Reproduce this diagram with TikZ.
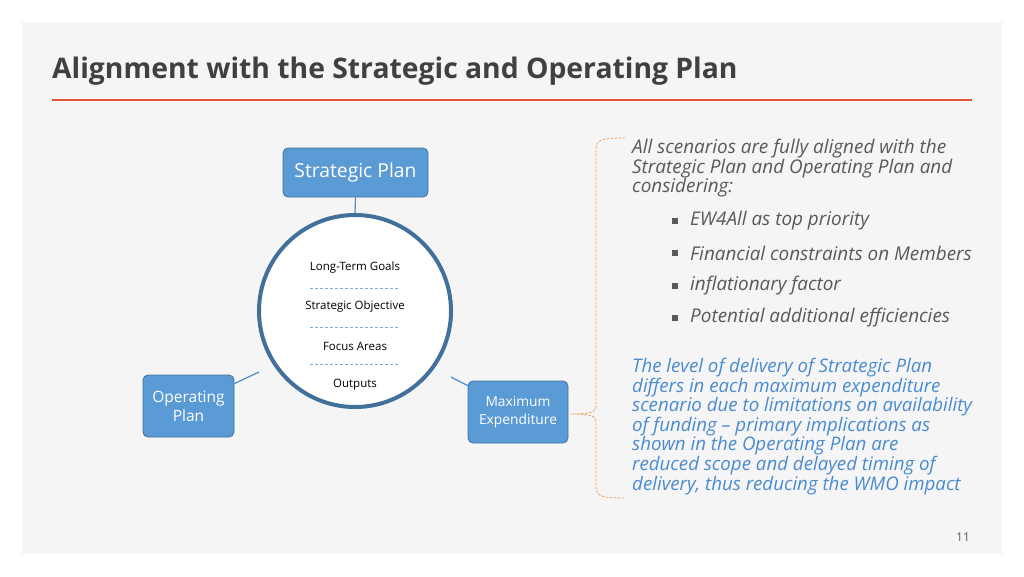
\documentclass[tikz,border=0pt]{standalone}
\usepackage{fontspec}
\setmainfont{Open Sans}
\begin{document}
\begin{tikzpicture}[x=1pt,y=-1pt,
  box/.style={draw=boxline,line width=0.8pt,fill=boxfill,rounded corners=5pt,text=white,align=center,inner sep=0pt},
  conn/.style={draw=linkblue,line width=1.2pt},
  sep/.style={draw=sepblue,dashed,line width=0.5pt,dash pattern=on 3pt off 2pt},
  grayt/.style={text=txtgray,font=\fontsize{18.9}{19.6}\selectfont\itshape,align=left,anchor=north west,inner sep=0pt},
  bluet/.style={text=txtblue,font=\fontsize{18.7}{19.6}\selectfont\itshape,align=left,anchor=north west,inner sep=0pt},
  circt/.style={font=\fontsize{11.5}{13}\selectfont,text=black}]
\definecolor{boxfill}{HTML}{5B9BD5}
\definecolor{boxline}{HTML}{41719C}
\definecolor{linkblue}{HTML}{4A8BC8}
\definecolor{sepblue}{HTML}{7FAEDD}
\definecolor{ringblue}{HTML}{41709A}
\definecolor{txtgray}{HTML}{595959}
\definecolor{txtblue}{HTML}{4A8BD0}
\definecolor{titlegray}{HTML}{404040}
\definecolor{redline}{HTML}{E0533A}
\definecolor{panel}{HTML}{F5F5F5}
\definecolor{brace}{HTML}{F0A060}
\useasboundingbox (0,0) rectangle (1024,576);
\fill[white] (0,0) rectangle (1024,576);
\fill[panel] (22,22) rectangle (1002,554);
\node[anchor=west,inner sep=0pt,text=titlegray,font=\fontsize{28.3}{32}\selectfont\bfseries] (title) at (52,71) {Alignment with the Strategic and Operating Plan};
\draw[redline,line width=1.5pt] (52,100) -- (972,100);
% circle
\node[circle,draw=ringblue,line width=4pt,fill=white,minimum size=192pt,inner sep=0pt] (ring) at (355,311) {};
\node[circt] (g1) at (355,268) {Long-Term Goals};
\node[circt] (g2) at (355,307) {Strategic Objective};
\node[circt] (g3) at (355,346) {Focus Areas};
\node[circt] (g4) at (355,385) {Outputs};
\draw[sep] (310,288) -- (398,288);
\draw[sep] (310,327) -- (398,327);
\draw[sep] (310,364) -- (398,364);
% boxes
\node[box,minimum width=145pt,minimum height=49pt,font=\fontsize{19.3}{22}\selectfont] (sp) at (355.5,172.5) {Strategic Plan};
\node[box,minimum width=91pt,minimum height=62pt,font=\fontsize{15.5}{19}\selectfont] (op) at (188.5,406) {Operating\\Plan};
\node[box,minimum width=100pt,minimum height=62pt,font=\fontsize{13.8}{18}\selectfont] (me) at (518,412) {Maximum\\Expenditure};
\draw[conn] (sp.south) -- (ring.north);
\coordinate (opa) at (259,372);
\coordinate (mea) at (451,377);
\draw[conn] (op.north east) ++(0,9) coordinate (opb) -- (opa);
\draw[conn] (me.north west) ++(0,5) coordinate (meb) -- (mea);
% brace
\coordinate (btop) at (625,138);
\coordinate (bbot) at (625,498);
\coordinate (btip) at (570,414);
\draw[brace,dashed,line width=0.8pt,dash pattern=on 2.5pt off 1.5pt]
  (btop) .. controls (600,138) and (596,140) .. (596,150) -- (596,405)
  .. controls (596,412) and (592,414) .. (btip)
  .. controls (592,414) and (596,416) .. (596,423) -- (596,486)
  .. controls (596,496) and (600,498) .. (bbot);
% right text
\node[grayt] (p1) at (632,139) {All scenarios are fully aligned with the\\Strategic Plan and Operating Plan and\\considering:};
\foreach \y/\t [count=\i] in {221/EW4All as top priority,253/Financial constraints on Members,286/inflationary factor,318/Potential additional efficiencies}{
  \fill[txtgray] (672,\y-3) rectangle (678,\y+3);
  \node[grayt,anchor=west] (b\i) at (690,\y) {\t};
}
\node[bluet] (p2) at (632,358) {The level of delivery of Strategic Plan\\differs in each maximum expenditure\\scenario due to limitations on availability\\of funding -- primary implications as\\shown in the Operating Plan are\\reduced scope and delayed timing of\\delivery, thus reducing the WMO impact};
\node[text=txtgray,font=\fontsize{12}{14}\selectfont,inner sep=0pt] (pg) at (963,537) {11};
\end{tikzpicture}
\end{document}
